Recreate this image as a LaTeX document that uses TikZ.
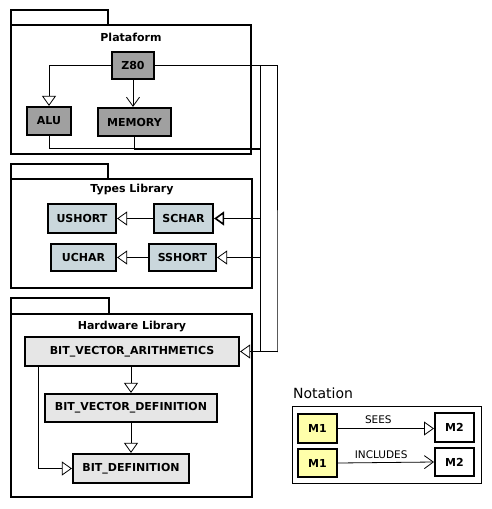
\documentclass[tikz,border=0pt]{standalone}
\usepackage{fontspec}
\setmainfont{DejaVu Sans}
\usetikzlibrary{arrows.meta, positioning}

\definecolor{platformfill}{HTML}{A0A0A0}
\definecolor{typesfill}{HTML}{CAD7DC}
\definecolor{hardwarefill}{HTML}{E6E6E6}
\definecolor{legendfill}{HTML}{FFFFAA}

\begin{document}
\begin{tikzpicture}[x=1pt, y=-1pt,
    every node/.style={inner sep=0pt, font=\fontsize{11}{13}\selectfont\bfseries},
    package/.style={draw, line width=2.4pt, outer sep=0pt},
    module/.style={draw, line width=2.2pt},
    sees/.style={-{Triangle[open, length=10pt, width=14pt]}, line width=0.8pt},
    includes/.style={-{Straight Barb[length=9pt, width=13pt]}, line width=0.8pt},
    label/.style={font=\fontsize{10.5}{12}\selectfont\mdseries}]
    \useasboundingbox (0,0) rectangle (491,509);

    % packages
    \node[package, minimum width=240pt, minimum height=129pt] (plataform) at (131,89.5) {};
    \node[package, minimum width=97pt, minimum height=15pt, anchor=south west] (plataform tab) at (plataform.north west) {};
    \node (plataform title) at (131,37) {Plataform};

    \node[package, minimum width=241pt, minimum height=109pt] (types) at (131.5,233.5) {};
    \node[package, minimum width=97pt, minimum height=15pt, anchor=south west] (types tab) at (types.north west) {};
    \node (types title) at (132,190) {Types Library};

    \node[package, minimum width=241pt, minimum height=183pt] (hardware) at (131.5,405.5) {};
    \node[package, minimum width=98pt, minimum height=16pt, anchor=south west] (hardware tab) at (hardware.north west) {};
    \node (hardware title) at (132,327) {Hardware Library};

    % Plataform
    \node[module, fill=platformfill, minimum width=42pt, minimum height=27pt] (z80) at (133,65.5) {Z80};
    \node[module, fill=platformfill, minimum width=44pt, minimum height=28pt] (alu) at (49,121) {ALU};
    \node[module, fill=platformfill, minimum width=73pt, minimum height=28pt] (memory) at (134.5,122) {MEMORY};

    % Types Library
    \node[module, fill=typesfill, minimum width=68pt, minimum height=29pt] (ushort) at (82,218.5) {USHORT};
    \node[module, fill=typesfill, minimum width=59pt, minimum height=29pt] (schar) at (183.5,218.5) {SCHAR};
    \node[module, fill=typesfill, minimum width=65pt, minimum height=27pt] (uchar) at (83.5,257.5) {UCHAR};
    \node[module, fill=typesfill, minimum width=67pt, minimum height=27pt] (sshort) at (182.5,257.5) {SSHORT};

    % Hardware Library
    \node[module, fill=hardwarefill, minimum width=214pt, minimum height=29pt] (bva) at (132,351.5) {BIT\_VECTOR\_ARITHMETICS};
    \node[module, fill=hardwarefill, minimum width=172pt, minimum height=28pt] (bvd) at (131,408) {BIT\_VECTOR\_DEFINITION};
    \node[module, fill=hardwarefill, minimum width=116pt, minimum height=29pt] (bd) at (131,468.5) {BIT\_DEFINITION};

    % bus on the right
    \coordinate (bus left top) at (260,66);
    \coordinate (bus left bottom) at (260,352);
    \coordinate (bus right) at (277,352);
    \coordinate (alu bus) at (260,148);

    \draw[sees] (z80.west) -| (alu.north);
    \draw[includes] (z80.south) -- (z80.south |- memory.north);
    \draw[line width=0.8pt] (alu.south) |- (alu bus);
    \draw[line width=0.8pt] (memory.south) |- ([yshift=-1.5pt]alu bus);
    \draw[line width=0.8pt] (bus left top) -- (bus left bottom);
    \draw[sees] (z80.east) -| (bus right) |- (bva.east);
    \draw[sees, line width=1.6pt] (bus left top |- schar.east) -- (schar.east);
    \draw[sees] (bus left top |- sshort.east) -- (sshort.east);

    \draw[sees] (schar.west) -- (ushort.east);
    \draw[sees] (sshort.west) -- (uchar.east);

    \draw[sees] (bva.south -| bvd.north) -- (bvd.north);
    \draw[sees] (bvd.south) -- (bd.north);
    \draw[sees] ([xshift=14pt]bva.south west) |- (bd.west);

    % notation
    \node[font=\fontsize{14}{16}\selectfont] (notation title) at (323,393) {Notation};
    \node[draw, line width=0.6pt, minimum width=189pt, minimum height=77pt] (notation) at (387,445) {};
    \node[module, line width=2pt, fill=legendfill, minimum width=39pt, minimum height=29pt] (m1 sees) at (317.5,428.5) {M1};
    \node[module, line width=2pt, fill=legendfill, minimum width=39pt, minimum height=28pt] (m1 includes) at (317.5,463) {M1};
    \node[module, line width=2pt, fill=white, minimum width=39pt, minimum height=29pt] (m2 sees) at (454.5,427.5) {M2};
    \node[module, line width=2pt, fill=white, minimum width=39pt, minimum height=28pt] (m2 includes) at (454.5,462) {M2};

    \draw[sees] (m1 sees.east) -- (m1 sees.east -| m2 sees.west) node[label, pos=0.42, above=4pt] {SEES};
    \draw[includes] (m1 includes.east) -- (m2 includes.west) node[label, pos=0.45, above=4pt] {INCLUDES};
\end{tikzpicture}
\end{document}
